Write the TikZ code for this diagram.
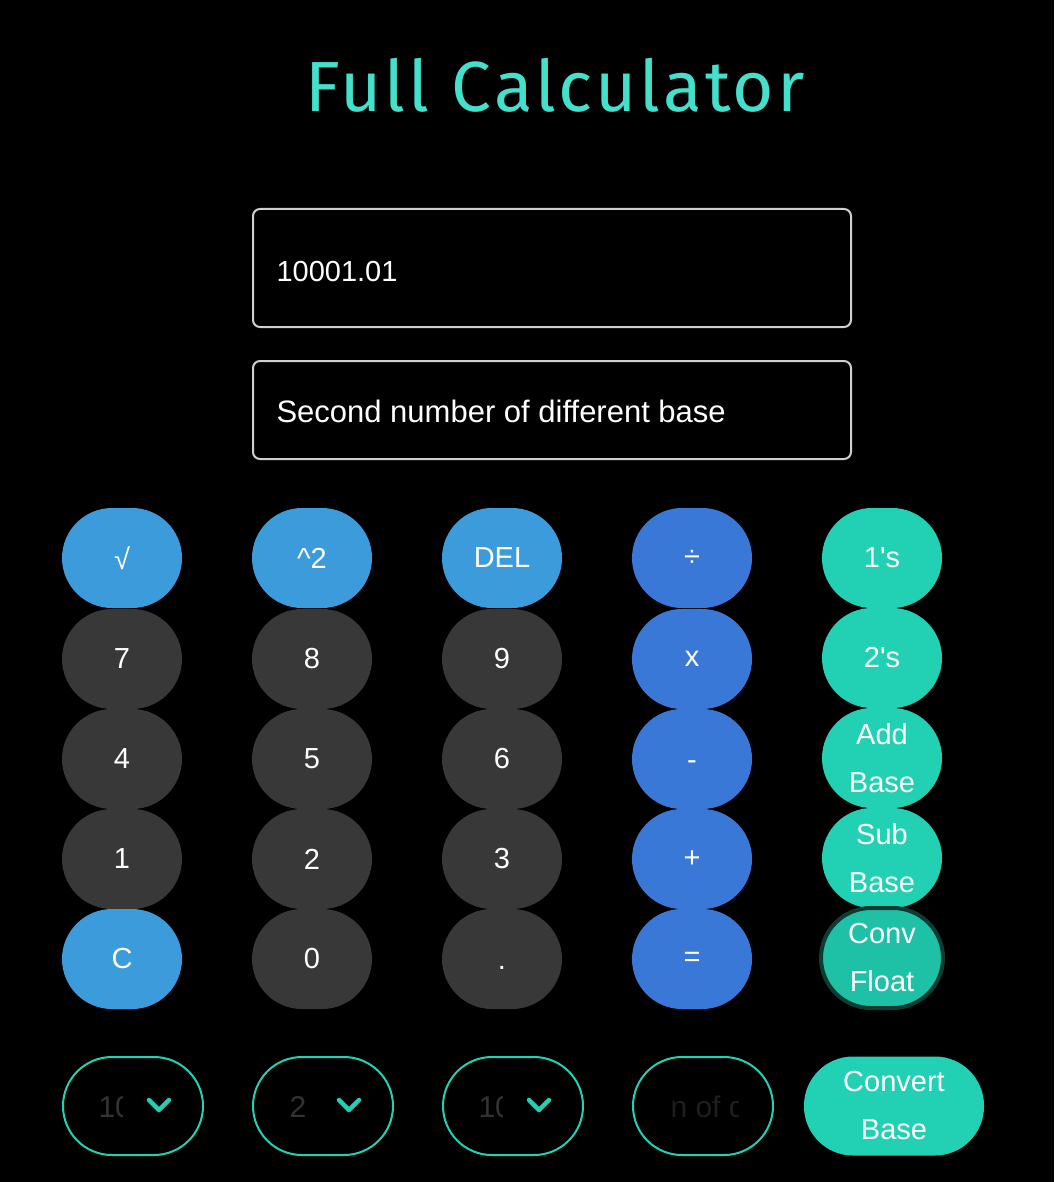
\documentclass[tikz,border=0pt]{standalone}
\usepackage{fontspec}
\setmainfont{Liberation Sans}
\newfontfamily\titlefont[LetterSpace=4.5]{Fira Sans}
\usetikzlibrary{positioning}
\definecolor{bgblack}{HTML}{000000}
\definecolor{titleteal}{HTML}{45E0CC}
\definecolor{fnblue}{HTML}{3B9BDB}
\definecolor{opblue}{HTML}{3A78D8}
\definecolor{keygrey}{HTML}{383838}
\definecolor{baseteal}{HTML}{22D1B3}
\definecolor{focusteal}{HTML}{1FC1A6}
\definecolor{ringdark}{HTML}{0E3B32}
\definecolor{boxgrey}{HTML}{CFCFCF}
\definecolor{hintgrey}{HTML}{333333}
\definecolor{hintdark}{HTML}{1E1E1E}

\begin{document}
\begin{tikzpicture}[x=1pt, y=-1pt,
    key/.style = {rectangle, rounded corners=50pt, minimum width=120pt, minimum height=100pt,
                  inner sep=0pt, text=white, font=\fontsize{29}{36}\selectfont},
    fnkey/.style = {key, fill=fnblue},
    opkey/.style = {key, fill=opblue},
    numkey/.style = {key, fill=keygrey},
    basekey/.style = {key, fill=baseteal, align=center, font=\fontsize{29}{48}\selectfont},
    inbox/.style = {rectangle, rounded corners=7pt, draw=boxgrey, line width=2pt,
                    minimum width=598pt, inner sep=0pt},
    selbox/.style = {rectangle, rounded corners=49pt, draw=baseteal, line width=2pt,
                     minimum width=140pt, minimum height=98pt, inner sep=0pt},
    chevron/.style = {draw=baseteal, line width=4.5pt, line cap=round, line join=round}]
        \useasboundingbox[fill=bgblack] (0,0) rectangle (1054,1182);

        % title
        \node[text=titleteal, font=\titlefont\fontsize{71}{80}\selectfont, anchor=base] (title) at (555,112) {Full Calculator};

        % input fields
        \node[inbox, minimum height=118pt] (first) at (552,268) {};
        \node[text=white, font=\fontsize{29}{36}\selectfont, anchor=base west] (firstval) at (273,281) {10001.01};
        \node[inbox, minimum height=98pt] (second) at (552,410) {};
        \node[text=white, font=\fontsize{31}{36}\selectfont, anchor=base west] (secondval) at (273,422) {Second number of different base};

        % keypad
        \node[fnkey] (sqrt) at (122,558) {√};
        \node[fnkey] (square) at (312,558) {\^{}2};
        \node[fnkey] (del) at (502,558) {DEL};
        \node[opkey] (div) at (692,558) {÷};
        \node[basekey] (ones) at (882,558) {1\textquotesingle s};

        \foreach \d/\x/\y in {7/122/659, 8/312/659, 9/502/659,
                              4/122/759, 5/312/759, 6/502/759,
                              1/122/859, 2/312/859, 3/502/859, 0/312/959}
            \node[numkey] (num\d) at (\x,\y) {\d};
        \node[numkey, text height=21pt, text depth=0pt] (dot) at (502,959) {.};
        \node[fnkey] (clear) at (122,959) {C};

        \node[opkey] (times) at (692,659) {x};
        \node[opkey, text height=21pt, text depth=0pt] (minus) at (692,759) {-};
        \node[opkey] (plus) at (692,859) {+};
        \node[opkey] (equals) at (692,959) {=};

        \node[basekey] (twos) at (882,658) {2\textquotesingle s};
        \node[basekey] (addbase) at (882,758) {Add\\Base};
        \node[basekey] (subbase) at (882,858) {Sub\\Base};
        \node[basekey, fill=focusteal, draw=ringdark, line width=4pt, minimum width=122pt] (convfloat) at (882,958) {Conv\\Float};

        % base selectors
        \node[selbox] (frombase) at (133,1106) {};
        \node[selbox] (tobase) at (323,1106) {};
        \node[selbox] (floatbase) at (513,1106) {};
        \node[selbox] (secondbase) at (703,1106) {};

        \begin{scope}
            \clip (90,1070) rectangle (122,1140);
            \node[text=hintgrey, font=\fontsize{30}{36}\selectfont, anchor=base west] (fromval) at (95,1117) {10};
        \end{scope}
        \node[text=hintgrey, font=\fontsize{30}{36}\selectfont, anchor=base west] (toval) at (286,1117) {2};
        \begin{scope}
            \clip (470,1070) rectangle (502,1140);
            \node[text=hintgrey, font=\fontsize{30}{36}\selectfont, anchor=base west] (floatval) at (475,1117) {10};
        \end{scope}
        \begin{scope}
            \clip (668,1070) rectangle (738,1140);
            \node[text=hintdark, font=\fontsize{30}{36}\selectfont, anchor=base west] (secondval) at (667,1117) {n of d};
        \end{scope}

        \draw[chevron] (149,1100) -- (159,1110) -- (169,1100);
        \draw[chevron] (339,1100) -- (349,1110) -- (359,1100);
        \draw[chevron] (529,1100) -- (539,1110) -- (549,1100);

        \node[basekey, minimum width=180pt, minimum height=99pt, rounded corners=49pt] (convert) at (894,1106) {Convert\\Base};
    \end{tikzpicture}
\end{document}
